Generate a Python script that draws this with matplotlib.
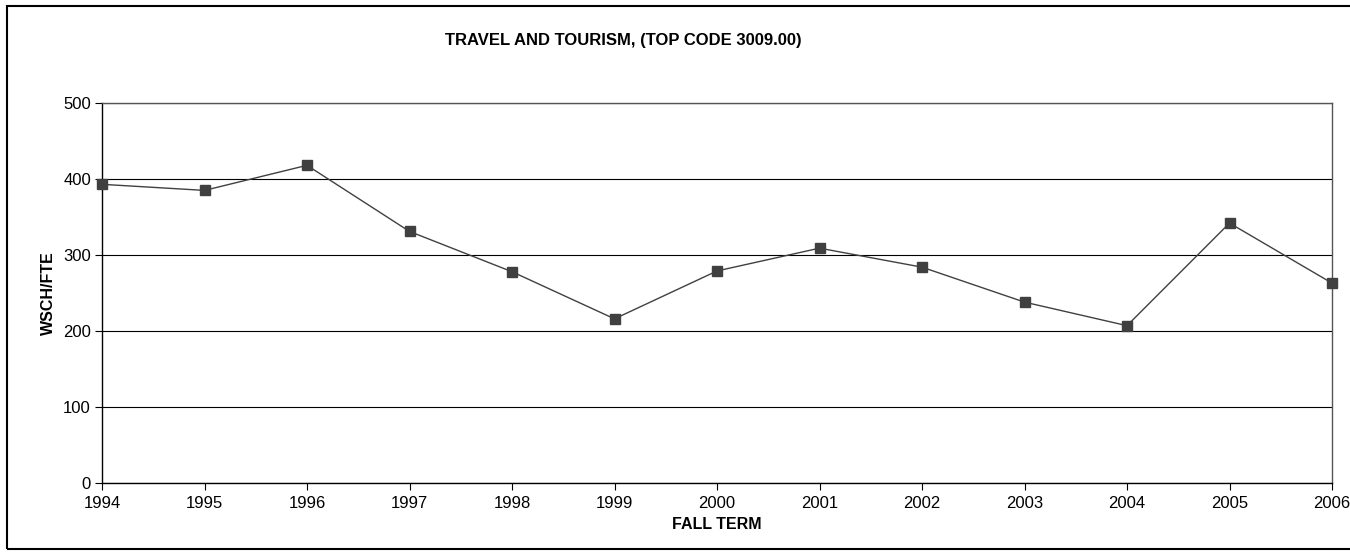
import matplotlib
matplotlib.use("Agg")
import matplotlib.pyplot as plt
from matplotlib.patches import Rectangle

years = [1994, 1995, 1996, 1997, 1998, 1999, 2000, 2001, 2002, 2003, 2004, 2005, 2006]
wsch_fte = [393, 385, 418, 331, 278, 216, 279, 309, 284, 238, 207, 342, 263]
y_ticks = [0, 100, 200, 300, 400, 500]

plt.rcParams['font.family'] = ['Liberation Sans', 'DejaVu Sans']

W, H = 1350, 556
fig = plt.figure(figsize=(W / 100, H / 100), dpi=100)
ax = fig.add_axes([102 / W, 1 - 483 / H, (1332 - 102) / W, (483 - 103) / H])

ax.plot(years, wsch_fte, color='#404040', linewidth=1.0, marker='s',
        markersize=6.5, markerfacecolor='#404040', markeredgecolor='#404040',
        clip_on=False, zorder=3)

ax.set_xlim(years[0], years[-1])
ax.set_ylim(0, 500)
ax.set_yticks(y_ticks)
ax.set_xticks(years)
ax.set_xticklabels([str(y) for y in years])
ax.yaxis.grid(True, color='black', linewidth=0.8)
ax.set_axisbelow(True)
for s in ax.spines.values():
    s.set_color('#555555')
    s.set_linewidth(1.0)
ax.spines['left'].set_color('black')
ax.spines['bottom'].set_color('black')
ax.tick_params(axis='both', direction='out', length=5, width=0.8,
               labelsize=12, colors='black')
ax.tick_params(axis='x', pad=4)
ax.tick_params(axis='y', pad=3)

ax.set_xlabel('FALL TERM', fontsize=11.5, fontweight='bold', labelpad=5)
ax.set_ylabel('WSCH/FTE', fontsize=11.5, fontweight='bold', labelpad=5)

fig.text(623 / W, 1 - 40 / H, 'TRAVEL AND TOURISM, (TOP CODE 3009.00)',
         ha='center', va='center', fontsize=12, fontweight='bold')

fig.patches.append(Rectangle((7 / W, 1 - 549 / H), (W + 10) / W, (549 - 6) / H,
                             transform=fig.transFigure, fill=False,
                             edgecolor='black', linewidth=1.5))

fig.savefig('out.png', dpi=100)
